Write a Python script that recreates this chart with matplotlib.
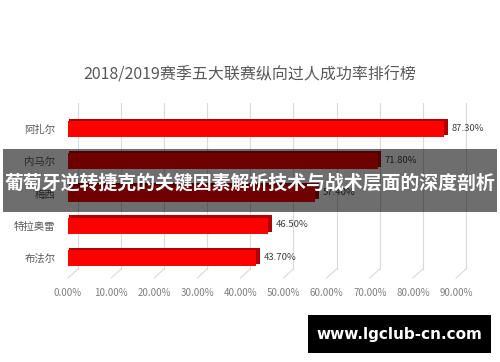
import matplotlib.pyplot as plt
from matplotlib.patches import Rectangle
from matplotlib.ticker import FuncFormatter

plt.rcParams['font.family'] = ['Noto Sans CJK SC', 'DejaVu Sans']

title = "2018/2019赛季五大联赛纵向过人成功率排行榜"
players = ["布法尔", "特拉奥雷", "梅西", "内马尔", "阿扎尔"]
rates = [43.7, 46.5, 57.4, 71.8, 87.3]
xticks = [0, 10, 20, 30, 40, 50, 60, 70, 80, 90]
banner = "葡萄牙逆转捷克的关键因素解析技术与战术层面的深度剖析"
site = "www.lgclub-cn.com"

fig = plt.figure(figsize=(5, 3.62), dpi=100)
W, H = 500, 362
ax = fig.add_axes([68 / W, 1 - 278 / H, 388 / W, 175 / H])
ax.set_xlim(0, 90)
ax.set_ylim(-0.62, 4.81)
for s in ax.spines.values():
    s.set_visible(False)

# 3d-ish back wall grid + floor lines
dx, wall = 2.3, -0.34
for t in xticks:
    ax.plot([t + dx, t + dx], [wall, 4.81], color="#d9d9d9", lw=0.8, zorder=0, clip_on=False)
    ax.plot([t, t + dx], [-0.62, wall], color="#d9d9d9", lw=0.8, zorder=0, clip_on=False)

ypos = list(range(len(players)))
# dark top/side of the boxes, then the front face
ax.barh([y + 0.07 for y in ypos], [r + 0.5 for r in rates], height=0.5, left=0.3,
        color="#b00000", zorder=2)
ax.barh(ypos, rates, height=0.5, color="#ff0000", zorder=3)

for y, r in zip(ypos, rates):
    ax.text(r + 1.6, y + 0.03, f"{r:.2f}%", va="center", ha="left",
            fontsize=6.8, color="#404040", zorder=4)

ax.set_yticks(ypos)
ax.set_yticklabels(players, fontsize=7.5, color="#595959")
ax.set_xticks(xticks)
ax.xaxis.set_major_formatter(FuncFormatter(lambda v, p: f"{v:.2f}%"))
ax.tick_params(axis="x", length=0, pad=7, labelsize=7, labelcolor="#7f7f7f")
ax.tick_params(axis="y", length=0, pad=9)

fig.text(0.5, 1 - 75 / H, title, ha="center", va="center", fontsize=11.5, color="#595959")

# overlay banner
fig.patches.append(Rectangle((3 / W, 1 - 212 / H), 494 / W, 63 / H, transform=fig.transFigure,
                             facecolor="black", alpha=0.57, edgecolor="none", zorder=5))
fig.text(0.5, 1 - 183 / H, banner, ha="center", va="center", fontsize=13.6,
         fontweight="bold", color="white", zorder=6)

# watermark box
fig.patches.append(Rectangle((308 / W, 1 - 353 / H), 183 / W, 38 / H, transform=fig.transFigure,
                             facecolor="black", edgecolor="none", zorder=5))
fig.text(399.5 / W, 1 - 334 / H, site, ha="center", va="center", fontsize=11,
         fontweight="bold", color="white", family="DejaVu Sans", zorder=6)

fig.savefig("out.png", dpi=100)
